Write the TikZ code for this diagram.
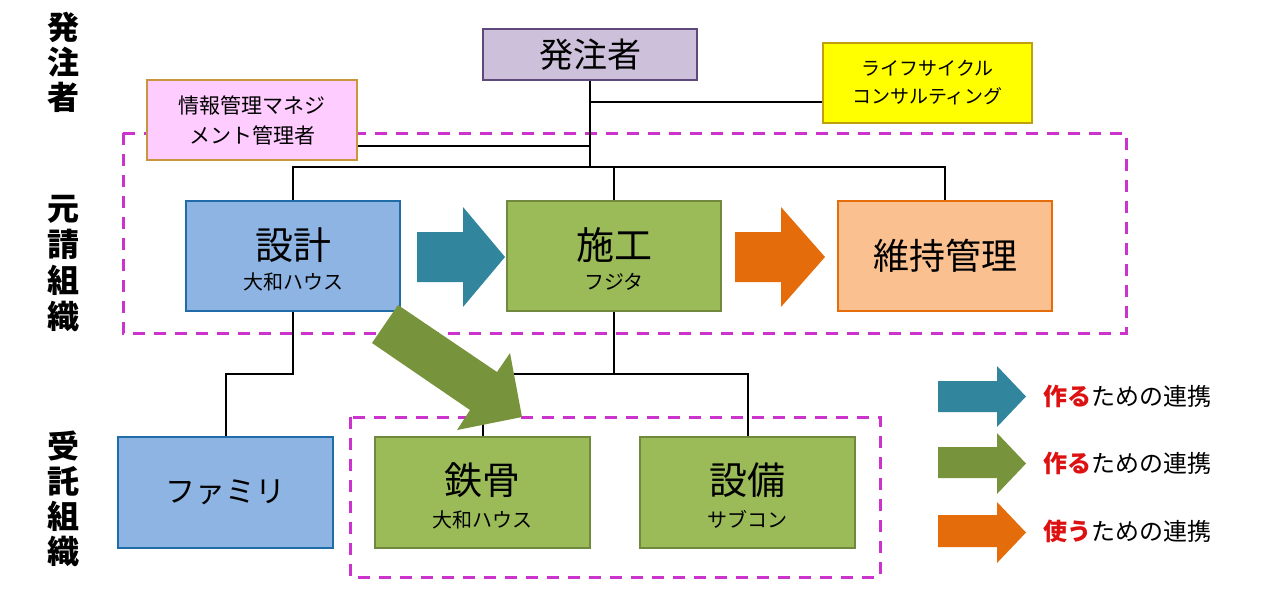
\documentclass[tikz,border=0pt]{standalone}
\usepackage{fontspec}
\setmainfont{Noto Sans CJK JP}
\usetikzlibrary{calc}
\definecolor{teal1}{HTML}{31859C}
\definecolor{green1}{HTML}{77933C}
\definecolor{orange1}{HTML}{E46C0A}
\definecolor{mag}{HTML}{CC33CC}
\definecolor{lavfill}{HTML}{CCC0DA}
\definecolor{lavline}{HTML}{5F497A}
\definecolor{yelfill}{HTML}{FFFF00}
\definecolor{yelline}{HTML}{BFA010}
\definecolor{pinkfill}{HTML}{FFCCFF}
\definecolor{pinkline}{HTML}{C8963C}
\definecolor{bluefill}{HTML}{8DB4E2}
\definecolor{blueline}{HTML}{1F6CA8}
\definecolor{grnfill}{HTML}{9BBB59}
\definecolor{grnline}{HTML}{71893F}
\definecolor{orgfill}{HTML}{FAC090}
\definecolor{orgline}{HTML}{E46C0A}
\definecolor{redtxt}{HTML}{DD1111}
\begin{document}
\begin{tikzpicture}[x=1pt,y=-1pt,
  box/.style={draw, line width=2.8pt, inner sep=0pt, text=black, align=center},
  bigbox/.style={box, minimum width=214pt, minimum height=110pt},
  bluebox/.style={bigbox, fill=bluefill, draw=blueline},
  grnbox/.style={bigbox, fill=grnfill, draw=grnline},
  orgbox/.style={bigbox, fill=orgfill, draw=orgline},
  bigtxt/.style={inner sep=0pt, font=\fontsize{38}{40}\selectfont},
  subtxt/.style={inner sep=0pt, font=\fontsize{20}{22}\selectfont},
  conn/.style={draw=black, line width=2pt},
  dashbox/.style={draw=mag, line width=3pt, dash pattern=on 12pt off 9pt},
  sidelbl/.style={inner sep=0pt, align=center, font=\bfseries\fontsize{32}{35}\selectfont},
  legtxt/.style={anchor=west, inner sep=0pt, font=\fontsize{24}{26}\selectfont},
]
\useasboundingbox (0,0) rectangle (1263,590);

% side labels
\node[sidelbl] (lblA) at (63,62) {発\\注\\者};
\node[sidelbl, font=\bfseries\fontsize{32}{36}\selectfont] (lblB) at (63,264) {元\\請\\組\\織};
\node[sidelbl] (lblC) at (63,499) {受\\託\\組\\織};

% dashed groups
\draw[dashbox] (123,133) rectangle (1126,333);
\draw[dashbox] (350,417) rectangle (880,577);

% top boxes
\node[box, fill=lavfill, draw=lavline, minimum width=214pt, minimum height=51pt,
      font=\fontsize{34}{36}\selectfont] (hatchu) at (590,54.5) {発注者};
\node[box, fill=yelfill, draw=yelline, minimum width=209pt, minimum height=80pt,
      font=\fontsize{19}{28}\selectfont] (life) at (927.5,83) {ライフサイクル\\コンサルティング};
\node[box, fill=pinkfill, draw=pinkline, minimum width=210pt, minimum height=80pt,
      font=\fontsize{21}{30}\selectfont] (joho) at (252,120) {情報管理マネジ\\メント管理者};

% main boxes
\node[bluebox] (sekkei) at (293,256) {};
\node[bigtxt] (sekkeiT) at ($(sekkei)+(0,-11)$) {設計};
\node[subtxt] (sekkeiS) at ($(sekkei)+(0,26)$) {大和ハウス};

\node[grnbox] (sekou) at (614,256) {};
\node[bigtxt] (sekouT) at ($(sekou)+(0,-11)$) {施工};
\node[subtxt] (sekouS) at ($(sekou)+(0,26)$) {フジタ};

\node[orgbox, font=\fontsize{36}{38}\selectfont] (iji) at (945,256) {維持管理};

\node[bluebox, minimum width=215pt, minimum height=111pt, font=\fontsize{30}{32}\selectfont] (famiri) at (225.5,492.5) {ファミリ};

\node[grnbox, minimum width=215pt, minimum height=111pt] (tekkotsu) at (482.5,492.5) {};
\node[bigtxt] (tekkotsuT) at ($(tekkotsu)+(0,-12)$) {鉄骨};
\node[subtxt] (tekkotsuS) at ($(tekkotsu)+(0,27)$) {大和ハウス};

\node[grnbox, minimum width=215pt, minimum height=111pt] (setsubi) at (747.5,492.5) {};
\node[bigtxt] (setsubiT) at ($(setsubi)+(0,-12)$) {設備};
\node[subtxt] (setsubiS) at ($(setsubi)+(0,27)$) {サブコン};

% connectors
\coordinate (j1) at (590,102);
\coordinate (j2) at (590,146);
\coordinate (bus) at (590,167);
\coordinate (low) at (0,374);
\draw[conn] (hatchu.south) -- (bus);
\draw[conn] (j1) -- (life.west |- j1);
\draw[conn] (j2) -- (joho.east |- j2);
\draw[conn] (sekkei.north) -- (sekkei.north |- bus) -- (iji.north |- bus) -- (iji.north);
\draw[conn] (sekou.north) -- (sekou.north |- bus);
\draw[conn] (sekkei.south) -- (sekkei.south |- low) -- (famiri.north |- low) -- (famiri.north);
\draw[conn] (sekou.south) -- (sekou.south |- low);
\draw[conn] (tekkotsu.north) -- (tekkotsu.north |- low) -- (setsubi.north |- low) -- (setsubi.north);

% block arrows
\fill[teal1] (417,232) -- (463,232) -- (463,207) -- (505,257) -- (463,307) -- (463,282) -- (417,282) -- cycle;
\fill[orange1] (735,232) -- (781,232) -- (781,207) -- (825,257) -- (781,307) -- (781,282) -- (735,282) -- cycle;
\fill[green1] (398,305) -- (497,372) -- (510,353) -- (522,417) -- (457,430) -- (470,410) -- (372,343) -- cycle;

% legend
\fill[teal1] (938,381) -- (997,381) -- (997,366) -- (1026,396.5) -- (997,427) -- (997,412) -- (938,412) -- cycle;
\fill[green1] (938,447) -- (997,447) -- (997,433) -- (1026,463.5) -- (997,494) -- (997,478) -- (938,478) -- cycle;
\fill[orange1] (938,515) -- (997,515) -- (997,502) -- (1026,532.5) -- (997,563) -- (997,547) -- (938,547) -- cycle;
\node[legtxt] (leg1) at (1043,396) {\textcolor{redtxt}{\bfseries 作る}ための連携};
\node[legtxt] (leg2) at (1043,463) {\textcolor{redtxt}{\bfseries 作る}ための連携};
\node[legtxt] (leg3) at (1043,531) {\textcolor{redtxt}{\bfseries 使う}ための連携};
\end{tikzpicture}
\end{document}
